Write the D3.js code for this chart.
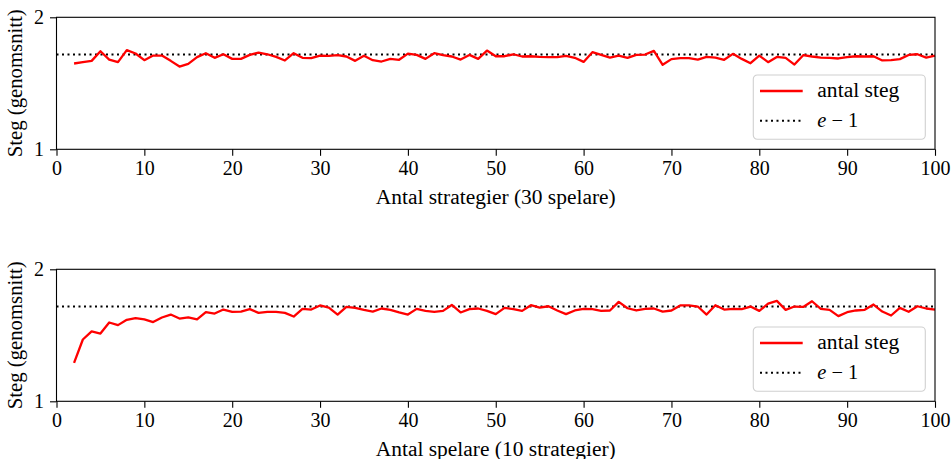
<!DOCTYPE html>
<html>
<head>
<meta charset="utf-8">
<script src="https://cdn.jsdelivr.net/npm/d3@7"></script>
<style>
  body { margin: 0; background: #fff; }
  text { font-family: "Liberation Serif", "Times New Roman", "DejaVu Serif", serif; fill: #000; }
</style>
</head>
<body>
<div id="my_dataviz"></div>
<script>
// antal steg per x-värde (x = 2..100)
var xStart = 2;
var stegStrategier = [
  1.650, 1.660, 1.670, 1.743, 1.680, 1.660, 1.751, 1.726, 1.675, 1.710,
  1.710, 1.670, 1.627, 1.647, 1.698, 1.728, 1.693, 1.720, 1.685, 1.685,
  1.715, 1.733, 1.720, 1.700, 1.673, 1.728, 1.693, 1.690, 1.710, 1.708,
  1.713, 1.703, 1.670, 1.708, 1.675, 1.665, 1.685, 1.678, 1.725, 1.715,
  1.685, 1.728, 1.713, 1.703, 1.680, 1.715, 1.685, 1.748, 1.705, 1.705,
  1.720, 1.703, 1.705, 1.700, 1.698, 1.698, 1.708, 1.693, 1.662, 1.736,
  1.715, 1.695, 1.710, 1.693, 1.715, 1.718, 1.746, 1.640, 1.683, 1.690,
  1.690, 1.680, 1.700, 1.695, 1.678, 1.723, 1.685, 1.652, 1.710, 1.660,
  1.700, 1.693, 1.642, 1.713, 1.703, 1.695, 1.693, 1.688, 1.698, 1.705,
  1.703, 1.705, 1.673, 1.675, 1.683, 1.715, 1.720, 1.695, 1.710
];
var stegSpelare = [
  1.291, 1.468, 1.529, 1.513, 1.597, 1.577, 1.617, 1.630, 1.620, 1.600,
  1.635, 1.657, 1.627, 1.635, 1.620, 1.675, 1.665, 1.695, 1.678, 1.680,
  1.698, 1.670, 1.678, 1.678, 1.670, 1.642, 1.700, 1.695, 1.726, 1.710,
  1.657, 1.715, 1.708, 1.693, 1.680, 1.703, 1.693, 1.673, 1.657, 1.700,
  1.685, 1.678, 1.685, 1.730, 1.673, 1.698, 1.703, 1.685, 1.660, 1.708,
  1.698, 1.685, 1.728, 1.710, 1.720, 1.688, 1.660, 1.688, 1.700, 1.698,
  1.685, 1.688, 1.753, 1.705, 1.688, 1.700, 1.703, 1.680, 1.688, 1.726,
  1.726, 1.718, 1.657, 1.728, 1.695, 1.700, 1.698, 1.718, 1.685, 1.740,
  1.761, 1.693, 1.718, 1.715, 1.758, 1.700, 1.693, 1.645, 1.675, 1.688,
  1.693, 1.733, 1.680, 1.650, 1.708, 1.678, 1.720, 1.703, 1.695
];
var referensVarde = Math.E - 1;
var xTicks = [0, 10, 20, 30, 40, 50, 60, 70, 80, 90, 100];
var yTicks = [1, 2];
var xDomain = [0, 100], yDomain = [1, 2];
var yLabel = "Steg (genomsnitt)";
var xLabels = ["Antal strategier (30 spelare)", "Antal spelare (10 strategier)"];
var legendLabels = ["antal steg", "e − 1"];

// dimensions of the figure
var W = 952, H = 459;
var left = 56.5, right = 935;
var panelTops = [17.3, 269.3], panelH = 132;
var fontSize = 20;

var svg = d3.select("#my_dataviz")
    .append("svg")
    .attr("width", W)
    .attr("height", H);

var x = d3.scaleLinear().domain(xDomain).range([0, right - left]);
var y = d3.scaleLinear().domain(yDomain).range([panelH, 0]);

function drawPanel(top, values, xlabel) {
    var data = values.map(function(v, i) { return {x: xStart + i, y: v}; });

    var g = svg.append("g")
        .attr("transform", "translate(" + left + "," + top + ")");

    // e - 1 reference line
    g.append("line")
        .attr("x1", x(xDomain[0]))
        .attr("x2", x(xDomain[1]))
        .attr("y1", y(referensVarde))
        .attr("y2", y(referensVarde))
        .style("stroke", "#000")
        .style("stroke-width", 2)
        .style("stroke-dasharray", "2,3.5");

    // the red line
    g.append("path")
        .datum(data)
        .attr("fill", "none")
        .attr("stroke", "#ff0000")
        .attr("stroke-width", 2.3)
        .attr("stroke-linejoin", "round")
        .attr("d", d3.line()
            .x(function(d) { return x(d.x); })
            .y(function(d) { return y(d.y); }));

    // axes
    var xAxis = g.append("g")
        .attr("transform", "translate(0," + panelH + ")")
        .call(d3.axisBottom(x).tickValues(xTicks).tickSize(6.5).tickPadding(5));
    var yAxis = g.append("g")
        .call(d3.axisLeft(y).tickValues(yTicks).tickFormat(d3.format("d")).tickSize(6.5).tickPadding(6));
    [xAxis, yAxis].forEach(function(a) {
        a.attr("font-family", null);
        a.select(".domain").remove();
        a.selectAll("line").style("stroke", "#000").style("stroke-width", 1.1);
        a.selectAll("text")
            .style("font-size", fontSize + "px")
            .style("fill", "#000");
    });

    // frame
    g.append("rect")
        .attr("width", right - left)
        .attr("height", panelH)
        .style("fill", "none")
        .style("stroke", "#000")
        .style("stroke-width", 1.1);

    // axis labels
    g.append("text")
        .attr("x", (right - left) / 2)
        .attr("y", panelH + 54.5)
        .attr("text-anchor", "middle")
        .attr("textLength", 240)
        .attr("lengthAdjust", "spacingAndGlyphs")
        .style("font-size", fontSize + "px")
        .text(xlabel);

    g.append("text")
        .attr("transform", "translate(" + (22 - left) + "," + (panelH / 2) + ") rotate(-90)")
        .attr("text-anchor", "middle")
        .attr("textLength", 148)
        .attr("lengthAdjust", "spacingAndGlyphs")
        .style("font-size", fontSize + "px")
        .text(yLabel);

    // legend
    var legend = g.append("g")
        .attr("transform", "translate(" + (753.3 - left) + "," + 57.7 + ")");
    legend.append("rect")
        .attr("width", 172)
        .attr("height", 64.3)
        .attr("rx", 4)
        .attr("ry", 4)
        .style("fill", "#fff")
        .style("fill-opacity", 0.8)
        .style("stroke", "#d0d0d0")
        .style("stroke-width", 1.1);

    var rows = legend.selectAll(".legend")
        .data(legendLabels)
        .enter().append("g")
        .attr("class", "legend")
        .attr("transform", function(d, i) { return "translate(0," + (16 + i * 29.7) + ")"; });

    rows.append("line")
        .attr("x1", 6.7)
        .attr("x2", 49.4)
        .style("stroke", function(d, i) { return i == 0 ? "#ff0000" : "#000"; })
        .style("stroke-width", function(d, i) { return i == 0 ? 2.3 : 2; })
        .style("stroke-dasharray", function(d, i) { return i == 0 ? null : "2,3.5"; });

    rows.append("text")
        .attr("x", 64)
        .attr("y", 6.3)
        .attr("textLength", function(d, i) { return i == 0 ? 82 : 41; })
        .attr("lengthAdjust", "spacingAndGlyphs")
        .style("font-size", fontSize + "px")
        .each(function(d, i) {
            var t = d3.select(this);
            if (i == 0) { t.text(d); return; }
            t.append("tspan").style("font-style", "italic").text("e");
            t.append("tspan").text(d.slice(1));
        });
}

drawPanel(panelTops[0], stegStrategier, xLabels[0]);
drawPanel(panelTops[1], stegSpelare, xLabels[1]);
</script>
</body>
</html>
